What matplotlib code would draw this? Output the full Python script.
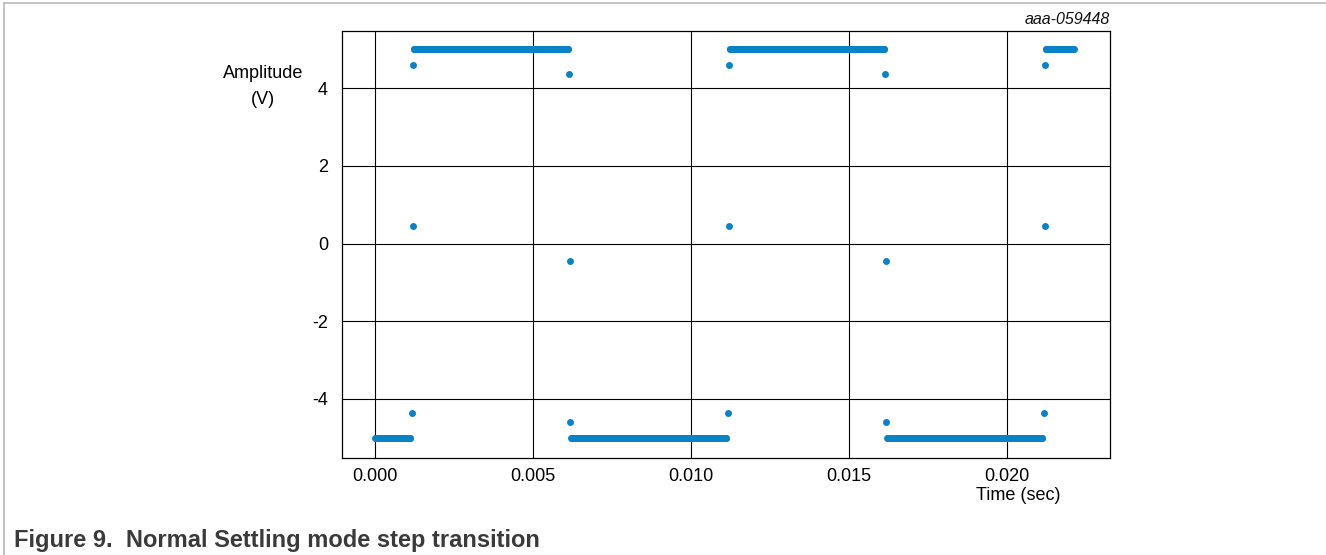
import numpy as np
import matplotlib
matplotlib.use("Agg")
import matplotlib.pyplot as plt
from matplotlib.lines import Line2D

plt.rcParams['font.family'] = ['Liberation Sans', 'DejaVu Sans']

# ---- data ----
# constant-level runs of samples (level, first sample time, last sample time)
run_levels = [-5.0, 5.0, -5.0, 5.0, -5.0, 5.0]
run_starts = [0.00000, 0.00122, 0.00620, 0.01122, 0.01620, 0.02122]
run_ends = [0.00112, 0.00612, 0.01112, 0.01612, 0.02112, 0.02212]
sample_dt = 0.00002

# isolated transition samples
trans_t = [0.00117, 0.00119, 0.00121,
           0.00615, 0.00616, 0.00617,
           0.01117, 0.01119, 0.01121,
           0.01615, 0.01616, 0.01617,
           0.02117, 0.02119, 0.02121]
trans_v = [-4.36, 0.45, 4.59,
           4.36, -0.46, -4.59,
           -4.36, 0.45, 4.59,
           4.36, -0.46, -4.59,
           -4.36, 0.45, 4.59]

x_ticks = [0.000, 0.005, 0.010, 0.015, 0.020]
x_tick_labels = ["0.000", "0.005", "0.010", "0.015", "0.020"]
y_ticks = [-4, -2, 0, 2, 4]
y_tick_labels = ["-4", "-2", "0", "2", "4"]

# ---- figure ----
W, H = 1326, 555
fig = plt.figure(figsize=(W / 100, H / 100), dpi=100)
ax = fig.add_axes([342 / W, 1 - 458 / H, (1110 - 342) / W, (458 - 31) / H])

color = '#0a82c6'
for lev, s, e in zip(run_levels, run_starts, run_ends):
    t = np.arange(s, e + sample_dt / 2, sample_dt)
    ax.plot(t, np.full_like(t, lev), 'o', color=color, ms=5.0, mew=0)
ax.plot(trans_t, trans_v, 'o', color=color, ms=5.0, mew=0)

ax.set_xlim(-0.001044, 0.02326)
ax.set_ylim(-5.52, 5.47)
ax.set_xticks(x_ticks)
ax.set_xticklabels(x_tick_labels)
ax.set_yticks(y_ticks)
ax.set_yticklabels(y_tick_labels)
ax.tick_params(length=0, labelsize=13, colors='black')
ax.tick_params(axis='x', pad=7)
ax.tick_params(axis='y', pad=10)
ax.grid(True, color='black', lw=0.8)
ax.set_axisbelow(True)
for sp in ax.spines.values():
    sp.set_color('black')
    sp.set_linewidth(0.9)

fig.text(263 / W, 1 - 73 / H, "Amplitude", ha='center', va='center', fontsize=13)
fig.text(263 / W, 1 - 99 / H, "(V)", ha='center', va='center', fontsize=13)
fig.text(1018 / W, 1 - 496 / H, "Time (sec)", ha='center', va='center', fontsize=13)
fig.text(1110 / W, 1 - 19 / H, "aaa-059448", ha='right', va='center', fontsize=11.5,
         style='italic', color='#111111')
fig.text(14 / W, 1 - 541 / H, "Figure 9.  Normal Settling mode step transition",
         ha='left', va='center', fontsize=17, fontweight='bold', color='#3a3a3a')

# document frame (top and left)
fig.add_artist(Line2D([4 / W, 1.0], [1 - 3 / H, 1 - 3 / H], color='#bbbbbb', lw=1.2,
                      transform=fig.transFigure))
fig.add_artist(Line2D([4 / W, 4 / W], [0.0, 1 - 3 / H], color='#bbbbbb', lw=1.2,
                      transform=fig.transFigure))

fig.savefig("out.png", dpi=100)
